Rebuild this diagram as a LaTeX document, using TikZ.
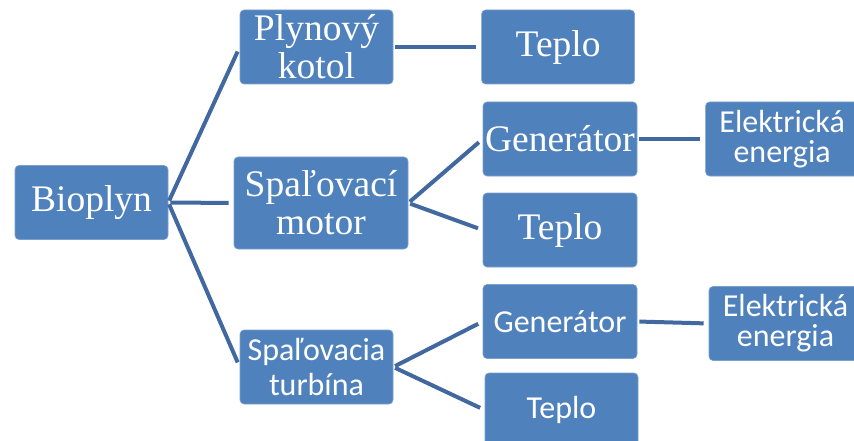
\documentclass[tikz,border=0pt]{standalone}
\usepackage{fontspec}
\setmainfont{Liberation Serif}
\newfontfamily\calibri{Carlito}
\usetikzlibrary{positioning}
\definecolor{boxblue}{RGB}{79,129,189}
\definecolor{lineblue}{RGB}{65,105,160}

\begin{document}
\begin{tikzpicture}[x=1pt, y=-1pt,
    box/.style = {rectangle, fill=boxblue, draw=boxblue!75!white, line width=0.6pt, rounded corners=4pt, align=center, text=white, inner sep=0pt, minimum width=153pt, minimum height=74pt},
    serif/.style = {font=\fontsize{37.5}{38}\selectfont},
    sans/.style = {font=\calibri\fontsize{32}{35}\selectfont},
    elsans/.style = {font=\calibri\fontsize{32}{30}\selectfont},
    conn/.style = {draw=lineblue, line width=4pt, shorten <=2pt, shorten >=5pt}
]
\useasboundingbox (0,0) rectangle (854,441);

\node (bioplyn) [box, serif] at (91.5,202.5) {Bioplyn};
\node (kotol) [box, serif] at (316.5,47) {Plynový\\kotol};
\node (motor) [box, serif, minimum width=174pt, minimum height=92pt] at (321,203) {Spaľovací\\motor};
\node (turbina) [box, sans] at (316.5,367) {Spaľovacia\\turbína};
\node (teplo_kotol) [box, serif, right=88pt of kotol] {Teplo};
\node (gen_motor) [box, serif, minimum width=154pt] at (560,139) {Generátor};
\node (el_motor) [box, elsans, right=68pt of gen_motor] {Elektrická\\energia};
\node (teplo_motor) [box, serif, minimum width=154pt] at (560,230) {Teplo};
\node (gen_turbina) [box, sans, minimum width=154pt] at (560,321.5) {Generátor};
\node (el_turbina) [box, elsans] at (785.5,323.5) {Elektrická\\energia};
\node (teplo_turbina) [box, sans] at (561.5,410) {Teplo};

\draw [conn] (bioplyn.east) -- (kotol.west);
\draw [conn] (bioplyn.east) -- (motor.west);
\draw [conn] (bioplyn.east) -- (turbina.west);
\draw [conn] (kotol.east) -- (teplo_kotol.west);
\draw [conn] (motor.east) -- (gen_motor.west);
\draw [conn] (motor.east) -- (teplo_motor.west);
\draw [conn] (gen_motor.east) -- (el_motor.west);
\draw [conn] (turbina.east) -- (gen_turbina.west);
\draw [conn] (turbina.east) -- (teplo_turbina.west);
\draw [conn] (gen_turbina.east) -- (el_turbina.west);

\end{tikzpicture}
\end{document}
